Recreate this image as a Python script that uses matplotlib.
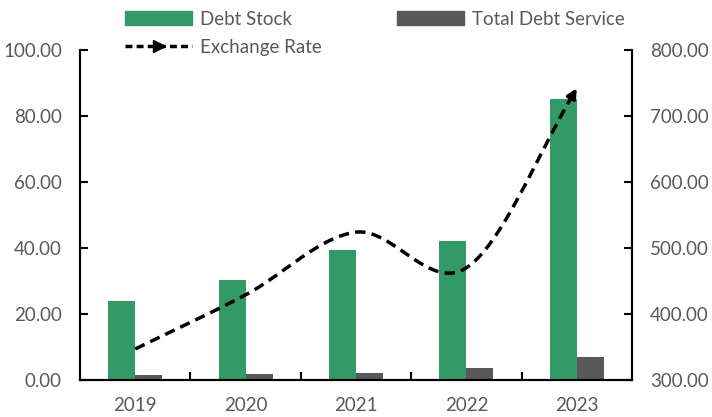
import numpy as np
import matplotlib
matplotlib.use("Agg")
import matplotlib.pyplot as plt
from matplotlib.patches import Patch
from matplotlib.lines import Line2D

years = ["2019", "2020", "2021", "2022", "2023"]
debt_stock = [24.0, 30.4, 39.4, 42.1, 85.2]
debt_service = [1.6, 1.9, 2.1, 3.6, 7.0]
exchange_rate = [347, 429, 524, 470, 742]

green = "#339966"
grey = "#595959"
txt = "#595959"
fs = 13.5

plt.rcParams['font.family'] = ['Lato', 'DejaVu Sans']

fig = plt.figure(figsize=(7.12, 4.17), dpi=100)
ax = fig.add_axes([80/712, 1-380/417, (632-80)/712, (380-50)/417])
ax2 = ax.twinx()

x = np.arange(len(years))
w = 0.245
ax.bar(x - w/2, debt_stock, w, color=green, zorder=2)
ax.bar(x + w/2, debt_service, w, color=grey, zorder=2)

ax.set_xlim(-0.5, len(years) - 0.5)
ax.set_ylim(0, 100)
ax.set_yticks(np.arange(0, 101, 20))
ax.set_yticklabels([f"{v:.2f}" for v in np.arange(0, 101, 20)])
ax.set_xticks(x)
ax.set_xticklabels(years)
ax.set_xticks(np.arange(0.5, len(years) - 1, 1), minor=True)
ax.tick_params(axis='x', which='major', length=0, pad=12, labelsize=fs, labelcolor=txt)
ax.tick_params(axis='x', which='minor', direction='in', length=6, width=1.5)
ax.tick_params(axis='y', direction='in', length=6, width=1.5, labelsize=fs, labelcolor=txt, pad=13)

ax2.set_ylim(300, 800)
ax2.set_yticks(np.arange(300, 801, 100))
ax2.set_yticklabels([f"{v:.2f}" for v in np.arange(300, 801, 100)])
ax2.tick_params(axis='y', direction='in', length=6, width=1.5, labelsize=fs, labelcolor=txt, pad=13)

for a in (ax, ax2):
    a.spines['top'].set_visible(False)
    for s in ('left', 'right', 'bottom'):
        a.spines[s].set_linewidth(1.5)
        a.spines[s].set_color('black')

# Catmull-Rom smoothing like Excel smoothed lines
px = np.array(x, dtype=float)
py = np.array(exchange_rate, dtype=float)
P = np.column_stack([px, py])
P_ext = np.vstack([2*P[0]-P[1], P, 2*P[-1]-P[-2]])
pts = []
for i in range(1, len(P_ext) - 2):
    p0, p1, p2, p3 = P_ext[i-1], P_ext[i], P_ext[i+1], P_ext[i+2]
    t = np.linspace(0, 1, 40)[:, None]
    seg = 0.5*((2*p1) + (-p0 + p2)*t + (2*p0 - 5*p1 + 4*p2 - p3)*t**2 + (-p0 + 3*p1 - 3*p2 + p3)*t**3)
    pts.append(seg if i == 1 else seg[1:])
curve = np.vstack(pts)
ax2.plot(curve[:-3, 0], curve[:-3, 1], color='black', lw=2.5, ls=(0, (3, 1.8)), zorder=3)
ax2.annotate("", xy=(curve[-1, 0], curve[-1, 1]), xytext=(curve[-4, 0], curve[-4, 1]),
             arrowprops=dict(arrowstyle='-|>', color='black', lw=2.5, mutation_scale=14,
                             shrinkA=0, shrinkB=0), zorder=4)

handles = [Patch(color=green, label="Debt Stock"),
           Line2D([0], [0], color='black', lw=2.5, ls=(0, (2, 1.2)), marker='>', markevery=[1],
                  markersize=8, label="Exchange Rate"),
           Patch(color=grey, label="Total Debt Service")]
leg = fig.legend(handles=handles, loc='upper left', bbox_to_anchor=(108/712, 1.015), ncol=2,
                 frameon=False, fontsize=fs, labelcolor=txt, handlelength=3.6,
                 handleheight=0.7, columnspacing=4.0, handletextpad=0.4, labelspacing=0.6)

fig.savefig("out.png", dpi=100)
